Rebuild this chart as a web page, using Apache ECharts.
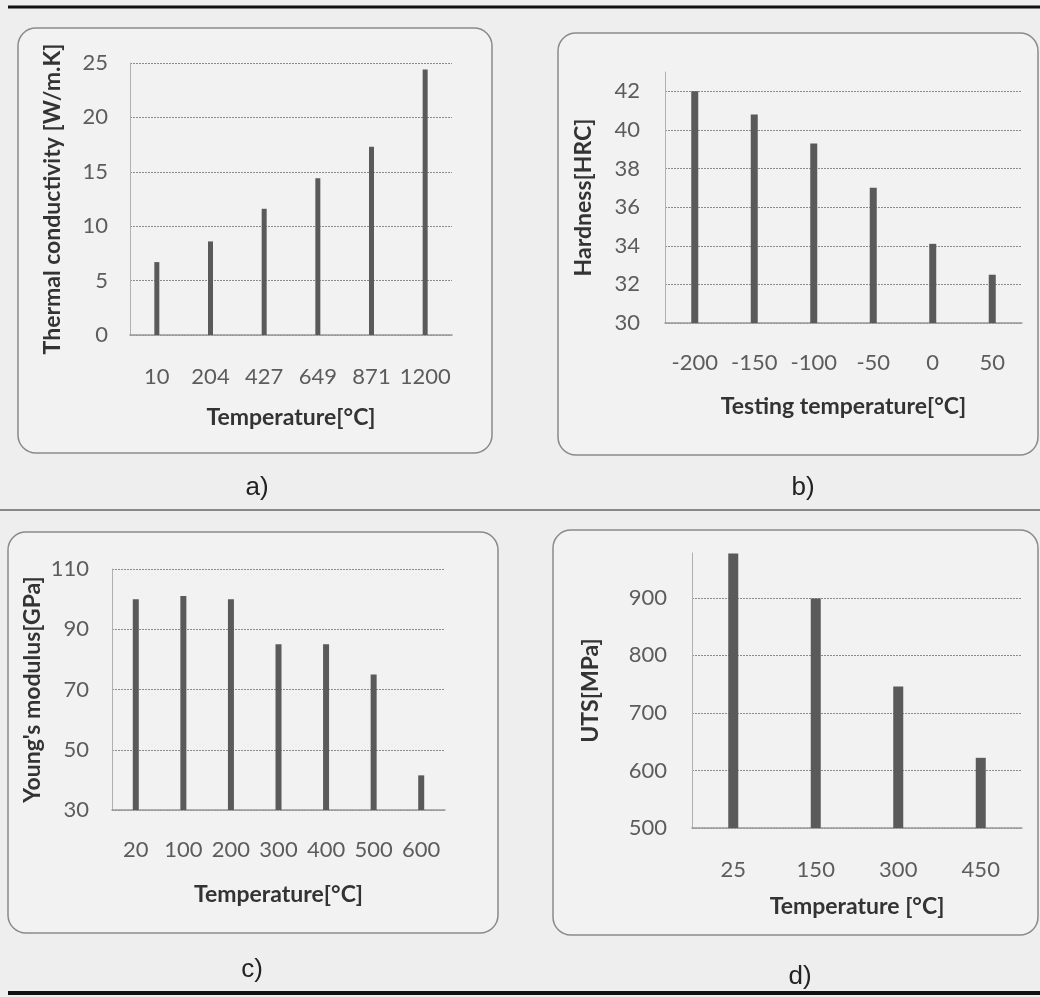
<!DOCTYPE html>
<html>
<head>
    <meta charset="utf-8">
    <title>Material properties vs temperature</title>
    <script src="https://cdn.jsdelivr.net/npm/echarts@6/dist/echarts.min.js"></script>
    <style>
        html, body { margin: 0; padding: 0; background: #eeeeee; }
        #main { width: 1040px; height: 997px; }
    </style>
</head>
<body>
<div id="main"></div>
<script>
// a) thermal conductivity
var catA = ['10', '204', '427', '649', '871', '1200'];
var valA = [6.7, 8.6, 11.6, 14.4, 17.3, 24.4];
// b) hardness
var catB = ['-200', '-150', '-100', '-50', '0', '50'];
var valB = [42.0, 40.8, 39.3, 37.0, 34.1, 32.5];
// c) young's modulus
var catC = ['20', '100', '200', '300', '400', '500', '600'];
var valC = [100, 101, 100, 85, 85, 75, 41.5];
// d) UTS
var catD = ['25', '150', '300', '450'];
var valD = [977, 899, 746, 622];

var chart = echarts.init(document.getElementById('main'));

var tickFont = { fontFamily: 'Lato', fontSize: 22, color: '#5c5c5c' };
var nameFont = { fontFamily: 'Lato', fontSize: 23, fontWeight: 'bold', color: '#333' };
var barColor = '#5a5a5a';

function xAxisOf(idx, cats, name, margin, gap) {
    return {
        type: 'category',
        gridIndex: idx,
        data: cats,
        name: name,
        nameLocation: 'middle',
        nameGap: gap,
        nameTextStyle: nameFont,
        axisTick: { show: false },
        axisLine: { lineStyle: { color: '#999', width: 1.5 } },
        axisLabel: Object.assign({ margin: margin, interval: 0 }, tickFont)
    };
}

function yAxisOf(idx, min, max, step, name, margin, gap) {
    var onStep = (max - min) % step === 0;
    return {
        type: 'value',
        gridIndex: idx,
        min: min,
        max: max,
        interval: step,
        name: name,
        nameLocation: 'middle',
        nameGap: gap,
        nameTextStyle: nameFont,
        axisLine: { show: true, lineStyle: { color: '#b0b0b0', width: 1 } },
        axisTick: { show: false },
        axisLabel: Object.assign({ margin: margin, showMaxLabel: onStep }, tickFont),
        splitLine: {
            showMaxLine: onStep,
            lineStyle: { color: '#8c8c8c', width: 1, type: [2, 1] }
        }
    };
}

function barsOf(idx, vals, w) {
    return {
        type: 'bar',
        xAxisIndex: idx,
        yAxisIndex: idx,
        data: vals,
        barWidth: w,
        itemStyle: { color: barColor },
        silent: true
    };
}

function box(x, y, w, h) {
    return {
        type: 'rect',
        shape: { x: x, y: y, width: w, height: h, r: 18 },
        style: { fill: '#f2f2f2', stroke: '#8a8a8a', lineWidth: 1.5 },
        z: -10
    };
}

function caption(t, x, y) {
    return {
        type: 'text',
        x: x, y: y,
        style: {
            text: t, align: 'center', verticalAlign: 'middle',
            fontFamily: 'Liberation Sans Narrow, Liberation Sans', fontSize: 26, fill: '#222'
        }
    };
}

function rule(x1, x2, y, color, w) {
    return {
        type: 'line',
        shape: { x1: x1, y1: y, x2: x2, y2: y },
        style: { stroke: color, lineWidth: w }
    };
}

option = {
    backgroundColor: '#eeeeee',
    animation: false,
    grid: [
        { left: 130, top: 63, width: 322, height: 272 },
        { left: 665, top: 72, width: 357, height: 251 },
        { left: 112, top: 569, width: 333, height: 241 },
        { left: 692, top: 553, width: 330, height: 275 }
    ],
    xAxis: [
        xAxisOf(0, catA, 'Temperature[°C]', 31, 71),
        xAxisOf(1, catB, 'Testing temperature[°C]', 29, 72),
        xAxisOf(2, catC, 'Temperature[°C]', 29, 73),
        xAxisOf(3, catD, 'Temperature [°C]', 31, 67)
    ],
    yAxis: [
        yAxisOf(0, 0, 25, 5, 'Thermal conductivity [W/m.K]', 22, 66),
        yAxisOf(1, 30, 43, 2, 'Hardness[HRC]', 25, 70),
        yAxisOf(2, 30, 110, 20, "Young's modulus[GPa]", 23, 68),
        yAxisOf(3, 500, 978, 100, 'UTS[MPa]', 25, 90)
    ],
    series: [
        barsOf(0, valA, 5),
        barsOf(1, valB, 7),
        barsOf(2, valC, 6),
        barsOf(3, valD, 10)
    ],
    graphic: [
        box(18, 28, 474, 425),
        box(558, 33, 480, 422),
        box(8, 532, 490, 401),
        box(553, 530, 485, 405),
        rule(8, 1040, 7, '#111', 3),
        rule(0, 1040, 510, '#666', 1.5),
        rule(8, 1040, 993, '#111', 4),
        caption('a)', 257, 488),
        caption('b)', 803, 488),
        caption('c)', 252, 970),
        caption('d)', 800, 977)
    ]
};
chart.setOption(option);
</script>
</body>
</html>
